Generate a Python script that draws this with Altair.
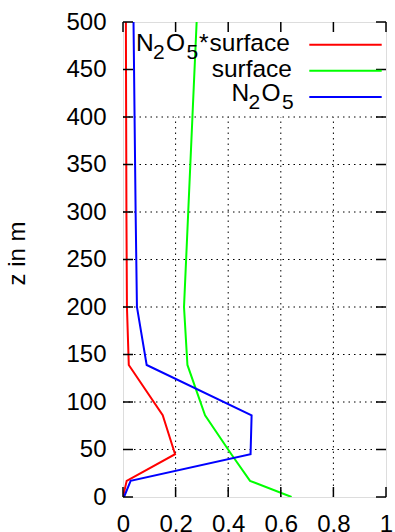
import altair as alt
import pandas as pd

# data
z_levels = [0, 17, 45, 86, 139, 200, 300, 400, 500]
red_vals = [0.0, 0.014, 0.198, 0.151, 0.022, 0.015, 0.013, 0.012, 0.011]
green_vals = [0.641, 0.483, 0.412, 0.312, 0.245, 0.232, 0.248, 0.264, 0.28]
blue_vals = [0.004, 0.029, 0.485, 0.489, 0.09, 0.053, 0.048, 0.044, 0.04]
series_names = ["N₂O₅*surface", "surface", "N₂O₅"]
series_colors = ["#ff0000", "#00ff00", "#0000ff"]
x_ticks = [0, 0.2, 0.4, 0.6, 0.8, 1]
y_ticks = [0, 50, 100, 150, 200, 250, 300, 350, 400, 450, 500]
x_grid = [0.2, 0.4, 0.6, 0.8]
y_grid = [50, 100, 150, 200, 250, 300, 350, 400]
grid_top = 400

W, H = 263, 475
FONT = "Liberation Sans"

rows = []
for name, vals in zip(series_names, [red_vals, green_vals, blue_vals]):
    for i, (z, v) in enumerate(zip(z_levels, vals)):
        rows.append({"series": name, "x": v, "z": z, "order": i})
lines_df = pd.DataFrame(rows)

xscale = alt.Scale(domain=[0, 1], nice=False, zero=False)
yscale = alt.Scale(domain=[0, 500], nice=False, zero=False)
xaxis = alt.Axis(values=x_ticks, format="~g", ticks=False, domain=False, grid=False,
                 labelFontSize=24, labelFont=FONT, labelColor="black", labelPadding=15,
                 title=None, labelFlush=False)
yaxis = alt.Axis(values=y_ticks, ticks=False, domain=False, grid=False,
                 labelFontSize=24, labelFont=FONT, labelColor="black", labelPadding=17,
                 title="z in m", titleFontSize=24, titleFont=FONT, titleFontWeight="normal",
                 titleColor="black", titleX=-106, titleY=231, titleAngle=-90,
                 titleAlign="center", titleBaseline="middle")

def X(field="x"):
    return alt.X(f"{field}:Q", scale=xscale, axis=xaxis)

def Y(field="z"):
    return alt.Y(f"{field}:Q", scale=yscale, axis=yaxis)

# grid
vgrid = alt.Chart(pd.DataFrame({"x": x_grid, "z": [0] * len(x_grid), "z2": [grid_top] * len(x_grid)})).mark_rule(
    color="black", strokeWidth=1, strokeDash=[1.5, 4]).encode(x=X(), y=Y(), y2="z2:Q")
hgrid = alt.Chart(pd.DataFrame({"z": y_grid, "x": [0] * len(y_grid), "x2": [1] * len(y_grid)})).mark_rule(
    color="black", strokeWidth=1, strokeDash=[1.5, 4]).encode(y=Y(), x=X(), x2="x2:Q")

# ticks (inward, mirrored)
TL = 10
ydf = pd.DataFrame({"z": y_ticks})
xdf = pd.DataFrame({"x": x_ticks})
tk = dict(color="black", strokeWidth=1.5)
lt = alt.Chart(ydf).mark_rule(**tk).encode(y=Y(), x=alt.value(0), x2=alt.value(TL))
rt = alt.Chart(ydf).mark_rule(**tk).encode(y=Y(), x=alt.value(W - TL), x2=alt.value(W))
bt = alt.Chart(xdf).mark_rule(**tk).encode(x=X(), y=alt.value(H), y2=alt.value(H - TL))
tt = alt.Chart(xdf).mark_rule(**tk).encode(x=X(), y=alt.value(0), y2=alt.value(TL))

lines = alt.Chart(lines_df).mark_line(strokeWidth=2, clip=True).encode(
    x=X(), y=Y(), order="order:Q",
    color=alt.Color("series:N", scale=alt.Scale(domain=series_names, range=series_colors), legend=None),
)

# legend (gnuplot style: label then sample line), labels built from pieces
MAIN_FS, SUB_FS, SUB_DY = 24.5, 21, 8
# (text, x, baseline y, is_subscript, align)
legend_pieces = [
    ("N", 13, 28.7, False, "left"), ("2", 30, 28.7, True, "left"), ("O", 43, 28.7, False, "left"),
    ("5", 63.5, 28.7, True, "left"), ("*", 76, 28.7, False, "left"), ("surface", 86.5, 28.7, False, "left"),
    ("surface", 169, 55.3, False, "right"),
    ("N", 108.5, 78.7, False, "left"), ("2", 125.5, 78.7, True, "left"), ("O", 138.5, 78.7, False, "left"),
    ("5", 159, 78.7, True, "left"),
]
legend_line_y = [22.7, 48.7, 75]

leg_layers = []
for txt, xx, yy, sub, al in legend_pieces:
    df = pd.DataFrame({"label": [txt]})
    leg_layers.append(alt.Chart(df).mark_text(
        align=al, baseline="alphabetic", fontSize=SUB_FS if sub else MAIN_FS, font=FONT, color="black"
    ).encode(text="label:N", x=alt.value(xx), y=alt.value(yy + (SUB_DY if sub else 0))))
for name, col, yy in zip(series_names, series_colors, legend_line_y):
    df = pd.DataFrame({"label": [name]})
    leg_layers.append(alt.Chart(df).mark_rule(color=col, strokeWidth=2).encode(
        x=alt.value(186.3), x2=alt.value(258.7), y=alt.value(yy)))

chart = alt.layer(vgrid, hgrid, lines, lt, rt, bt, tt, *leg_layers).properties(
    width=W, height=H,
    autosize=alt.AutoSizeParams(type="none"),
    padding={"left": 123, "top": 22, "right": 9, "bottom": 35},
).configure_view(stroke="black", strokeWidth=1.5).configure(background="white")

chart.save("out.html", embed_options={"renderer": "svg", "actions": False})
